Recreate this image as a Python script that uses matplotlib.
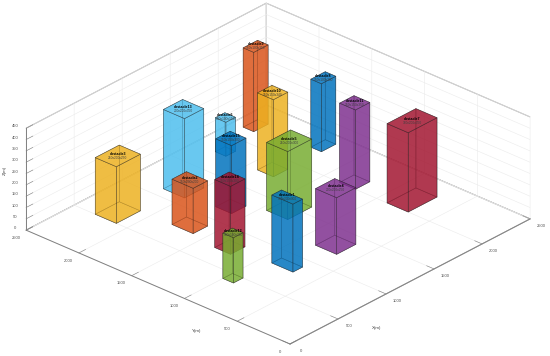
import matplotlib
matplotlib.use('Agg')
import matplotlib.pyplot as plt
from matplotlib.colors import to_rgba
from mpl_toolkits.mplot3d import proj3d

plt.rcParams['font.family'] = ['Liberation Sans', 'DejaVu Sans']

ids = [1, 2, 3, 4, 5, 6, 7, 8, 9, 10, 11, 12, 13, 14, 15]
x0 = [800, 750, 500, 1200, 1350, 1750, 2000, 2250, 2150, 1750, 2000, 400, 1100, 700, 1150]
y0 = [700, 1600, 2100, 650, 1250, 2200, 700, 1750, 2300, 1750, 1200, 900, 2000, 1200, 1600]
dx = [100, 150, 250, 200, 250, 100, 300, 150, 150, 150, 150, 100, 200, 150, 150]
dy = [200, 200, 200, 200, 200, 100, 200, 100, 100, 150, 150, 100, 200, 150, 150]
dz = [300, 200, 250, 250, 300, 150, 350, 300, 350, 340, 350, 200, 350, 300, 300]
cycle = ['#0072BD', '#D95319', '#EDB120', '#7E2F8E', '#77AC30', '#4DBEEE', '#A2142F']

x_ticks = [0, 500, 1000, 1500, 2000, 2500]
y_ticks = [0, 500, 1000, 1500, 2000, 2500]
z_ticks = list(range(0, 451, 50))

W, H = 550, 356
fig = plt.figure(figsize=(W / 100, H / 100), dpi=100, facecolor='white')
S = 550.0
ax = fig.add_axes([0, (H - S) / 2 / H, S / W, S / H], projection='3d', proj_type='ortho')
ax.computed_zorder = False
ax.view_init(elev=28.3, azim=-137.7)
ax.set_box_aspect((1, 1, 0.3245), zoom=1)
ax.set_xlim(0, 2500, view_margin=0)
ax.set_ylim(0, 2500, view_margin=0)
ax.set_zlim(0, 450, view_margin=0)
ax.set_xticks(x_ticks)
ax.set_yticks(y_ticks)
ax.set_zticks(z_ticks)

order = sorted(range(len(ids)), key=lambda i: -(x0[i] + dx[i] / 2 + y0[i] + dy[i] / 2))
for i in order:
    c = cycle[(ids[i] - 1) % 7]
    ax.bar3d(x0[i], y0[i], 0, dx[i], dy[i], dz[i], color=to_rgba(c, 0.6),
             edgecolor=to_rgba('#202020', 0.55), linewidth=0.4, shade=False)

for axis in (ax.xaxis, ax.yaxis, ax.zaxis):
    axis.set_pane_color((1, 1, 1, 1))
    axis.pane.set_edgecolor('#a0a0a0')
    axis.pane.set_linewidth(0.7)
    axis.line.set_color('#808080')
    axis.line.set_linewidth(0.7)
    axis._axinfo['grid'].update(color='#ebebeb', linewidth=0.4)
    axis._axinfo['tick'].update(inward_factor=0.0, outward_factor=0.35, linewidth={True: 0.4, False: 0.3})
    axis._axinfo['axisline']['color'] = '#808080'
    axis.set_rotate_label(False)
ax.tick_params(axis='both', labelsize=3.0, labelcolor='#505050', color='#808080', pad=0)
ax.tick_params(axis='z', labelsize=3.0, labelcolor='#505050', color='#808080', pad=-4)
ax.zaxis.set_ticks_position('upper')
ax.zaxis.set_label_position('upper')
xl = ax.set_xlabel('X(m)', fontsize=3.2, color='#404040', rotation=0)
yl = ax.set_ylabel('Y(m)', fontsize=3.2, color='#404040', rotation=0)
zl = ax.set_zlabel('Z(m)', fontsize=3.2, color='#404040', rotation=90)
for axis in (ax.xaxis, ax.yaxis, ax.zaxis):
    for t in axis.get_major_ticks():
        t.label1.set_va('bottom')


def px(x, y, z):
    xs, ys, _ = proj3d.proj_transform(x, y, z, ax.get_proj())
    return ax.transData.transform((xs, ys))


# fit the box onto the reference's pixel frame
fig.canvas.draw()
span = px(2500, 0, 0)[0] - px(0, 2500, 0)[0]
S = S * 504 / span
ax.set_position([0, (H - S) / 2 / H, S / W, S / H])
fig.canvas.draw()
o = px(0, 0, 0)
ax.set_position([(290 - o[0]) / W, ((H - S) / 2 + (H - 344 - o[1])) / H, S / W, S / H])
fig.canvas.draw()


def pin(lab, tx, ty):
    lab.set_position(ax.transData.inverted().transform((tx, H - ty)))
    lab.set_position = lambda xy: None


pin(xl, 377, 328)
pin(yl, 197, 331)
pin(zl, 5, 170)

# obstacle captions sit at the centre of each roof
M = ax.get_proj()
for i in range(len(ids)):
    cx, cy, top = x0[i] + dx[i] / 2, y0[i] + dy[i] / 2, dz[i]
    sx, sy, _ = proj3d.proj_transform(cx, cy, top, M)
    ax.text2D(sx, sy, f'obstacle{ids[i]}', transform=ax.transData, fontsize=2.6,
              fontweight='bold', color='black', ha='center', va='bottom')
    ax.text2D(sx, sy, f'{dx[i]}x{dy[i]}x{dz[i]}', transform=ax.transData, fontsize=2.3,
              color='#404040', ha='center', va='top')

fig.savefig('out.png', dpi=100)
